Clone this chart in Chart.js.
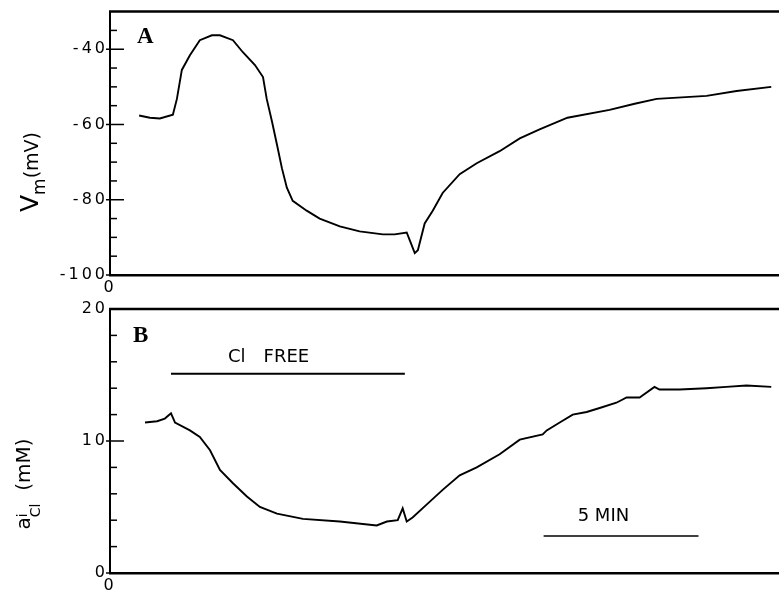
<!DOCTYPE html>
<html>
<head>
<meta charset="utf-8">
<script src="https://cdn.jsdelivr.net/npm/chart.js@4.4.0/dist/chart.umd.min.js"></script>
<style>
  body { margin: 0; background: #fff; }
  #wrap { position: relative; width: 779px; height: 591px; overflow: hidden; font-family: "DejaVu Sans", sans-serif; color: #000; }
  canvas { position: absolute; left: 0; }
  #cA { top: 0; }
  #cB { top: 290px; }
  .ytitle { position: absolute; white-space: nowrap; line-height: 1; transform: translate(-50%, -50%) rotate(-90deg); }
</style>
</head>
<body>
<div id="wrap">
  <canvas id="cA" width="779" height="300"></canvas>
  <canvas id="cB" width="779" height="301"></canvas>
  <div class="ytitle" style="left:29px; top:172px; font-size:19px;"><span style="font-size:25px">V</span><span style="font-size:17px; position:relative; top:7px">m</span>(mV)</div>
  <div class="ytitle" style="left:27px; top:484px; font-size:20px;">a<span style="display:inline-block; vertical-align:-10px; font-size:14px; line-height:13px; text-align:left">i<br>Cl</span>&nbsp;&nbsp;(mM)</div>
</div>
<script>
// time in minutes
const timeA = [0.94, 1.29, 1.61, 2.03, 2.16, 2.32, 2.58, 2.90, 3.29, 3.55, 3.97, 4.29, 4.68, 4.94,
  5.06, 5.23, 5.39, 5.55, 5.71, 5.90, 6.35, 6.77, 7.42, 8.06, 8.81, 9.19, 9.58, 9.68, 9.84, 9.94,
  10.16, 10.42, 10.74, 11.29, 11.84, 12.58, 13.23, 13.87, 14.77, 16.13, 16.94, 17.65, 19.26, 20.23, 21.35];
const vm = [-57.6, -58.2, -58.4, -57.4, -53.2, -45.5, -41.6, -37.6, -36.3, -36.3, -37.6, -40.8, -44.2, -47.4,
  -53.2, -59.2, -65.3, -71.6, -76.8, -80.3, -82.9, -85.0, -87.1, -88.4, -89.2, -89.2, -88.7, -90.8, -94.2, -93.4,
  -86.3, -82.9, -78.2, -73.2, -70.3, -67.1, -63.7, -61.3, -58.2, -56.1, -54.5, -53.2, -52.4, -51.1, -50.0];

const timeB = [1.13, 1.52, 1.77, 1.97, 2.10, 2.58, 2.90, 3.23, 3.55, 3.97, 4.42, 4.84, 5.39, 6.23, 7.42,
  8.61, 8.94, 9.29, 9.45, 9.58, 9.77, 10.23, 10.74, 11.29, 11.84, 12.58, 13.23, 13.97, 14.10, 14.52,
  14.94, 15.39, 15.81, 16.35, 16.68, 17.10, 17.58, 17.74, 18.39, 19.26, 19.90, 20.55, 21.35];
const aCl = [11.4, 11.5, 11.7, 12.1, 11.4, 10.8, 10.3, 9.3, 7.8, 6.8, 5.8, 5.0, 4.5, 4.1, 3.9,
  3.6, 3.9, 4.0, 4.9, 3.9, 4.2, 5.2, 6.3, 7.4, 8.0, 9.0, 10.1, 10.5, 10.8, 11.4,
  12.0, 12.2, 12.5, 12.9, 13.3, 13.3, 14.1, 13.9, 13.9, 14.0, 14.1, 14.2, 14.1];

// Cl free period and 5 min scale bar
const clFreeTime = [1.97, 9.52];
const clFreeLevel = 15.1;
const barTime = [14.0, 19.0];
const barLevel = 2.8;

const vmMajor = [-100, -80, -60, -40];
const clMajor = [0, 10, 20];

const tickFont = { family: 'DejaVu Sans', size: 16 };

function pts(xs, ys) {
  return xs.map((x, i) => ({ x: x, y: ys[i] }));
}

// letter spacing for the tick labels
const spacing = {
  id: 'spacing',
  beforeDraw(chart) { chart.ctx.letterSpacing = '3px'; },
  beforeDatasetsDraw(chart) { chart.ctx.letterSpacing = '0px'; }
};

// top line, tick marks and the labels inside the panel
const frame = {
  id: 'frame',
  afterDraw(chart, args, opts) {
    const { ctx, chartArea: a } = chart;
    const x = chart.scales.x, y = chart.scales.y;
    ctx.save();
    ctx.strokeStyle = '#000';
    ctx.lineWidth = 2.5;
    ctx.beginPath();
    ctx.moveTo(a.left - 1, a.top);
    ctx.lineTo(a.right, a.top);
    ctx.stroke();
    ctx.lineWidth = 1.5;
    y.ticks.forEach(t => {
      if (t.value >= y.max) return;
      const py = y.getPixelForValue(t.value);
      const major = opts.major.includes(t.value);
      ctx.beginPath();
      ctx.moveTo(a.left - (major ? 4 : 0), py);
      ctx.lineTo(a.left + (major ? 14 : 7), py);
      ctx.stroke();
    });
    ctx.fillStyle = '#000';
    ctx.textBaseline = 'alphabetic';
    ctx.textAlign = 'left';
    opts.texts.forEach(tx => {
      ctx.font = tx.font;
      ctx.fillText(tx.text, x.getPixelForValue(tx.x), y.getPixelForValue(tx.y));
    });
    ctx.restore();
  }
};

function makeChart(id, data, yMin, yMax, step, major, padTop, xHeight, texts) {
  return new Chart(document.getElementById(id), {
    type: 'line',
    data: { datasets: data },
    options: {
      responsive: false,
      animation: false,
      layout: { padding: { top: padTop, left: 0, right: 0, bottom: 0 } },
      plugins: { legend: { display: false }, tooltip: { enabled: false }, frame: { major: major, texts: texts } },
      elements: { point: { radius: 0 }, line: { tension: 0, borderColor: '#000', borderWidth: 1.9 } },
      scales: {
        x: {
          type: 'linear', min: 0, max: 21.6,
          grid: { display: false, drawTicks: false },
          border: { display: true, color: '#000', width: 2.5 },
          afterBuildTicks: s => { s.ticks = [{ value: 0 }]; },
          afterFit: s => { s.height = xHeight; },
          ticks: { font: tickFont, color: '#000', padding: 3, maxRotation: 0 }
        },
        y: {
          min: yMin, max: yMax,
          grid: { display: false, drawTicks: false },
          border: { display: true, color: '#000', width: 2 },
          afterFit: s => { s.width = 110; },
          ticks: {
            stepSize: step, autoSkip: false, font: tickFont, color: '#000', padding: 2,
            callback: v => major.includes(v) ? String(v) : ''
          }
        }
      }
    },
    plugins: [spacing, frame]
  });
}

makeChart('cA', [
  { data: pts(timeA, vm) }
], -100, -30, 5, vmMajor, 9, 25, [
  { text: 'A', x: 0.87, y: -38.4, font: 'bold 23px "Liberation Serif"' }
]);

makeChart('cB', [
  { data: pts(timeB, aCl) },
  { data: pts(clFreeTime, [clFreeLevel, clFreeLevel]), borderWidth: 2 },
  { data: pts(barTime, [barLevel, barLevel]), borderWidth: 1.6 }
], 0, 20, 2, clMajor, 19, 18, [
  { text: 'B', x: 0.74, y: 17.5, font: 'bold 23px "Liberation Serif"' },
  { text: 'Cl\u2003FREE', x: 3.81, y: 16.0, font: '18px "DejaVu Sans"' },
  { text: '5 MIN', x: 15.1, y: 3.94, font: '18px "DejaVu Sans"' }
]);
</script>
</body>
</html>
